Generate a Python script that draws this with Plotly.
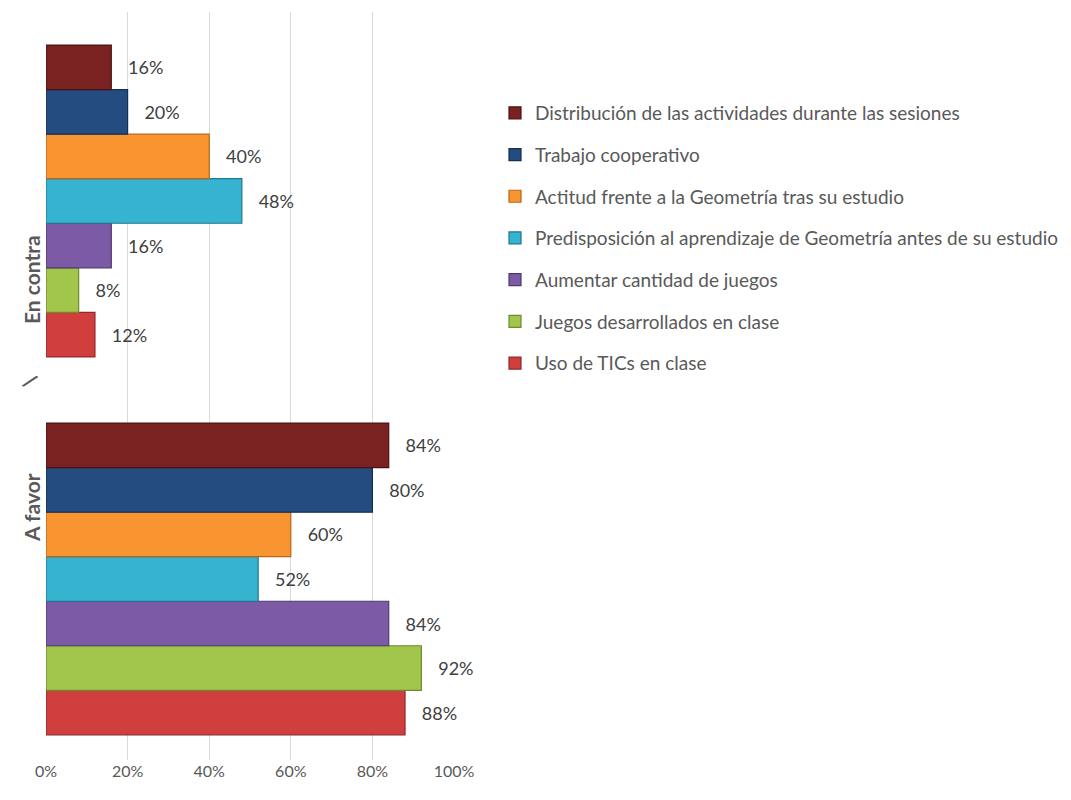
import plotly.graph_objects as go

categories = ["A favor", "En contra"]
series_names = [
    "Uso de TICs en clase",
    "Juegos desarrollados en clase",
    "Aumentar cantidad de juegos",
    "Predisposición al aprendizaje de Geometría antes de su estudio",
    "Actitud frente a la Geometría tras su estudio",
    "Trabajo cooperativo",
    "Distribución de las actividades durante las sesiones",
]
a_favor = [0.88, 0.92, 0.84, 0.52, 0.60, 0.80, 0.84]
en_contra = [0.12, 0.08, 0.16, 0.48, 0.40, 0.20, 0.16]
colors = ["#D03E3E", "#A2C54C", "#7C5AA6", "#37B3D2", "#F99530", "#244C80", "#7A2222"]
edges = ["#8E2A2A", "#6E8A2E", "#4F3A70", "#1F7690", "#B8661A", "#15304F", "#4A1414"]
xticks = [0, 0.2, 0.4, 0.6, 0.8, 1.0]
xticklabels = ["0%", "20%", "40%", "60%", "80%", "100%"]

FONT = "Lato, 'Open Sans', sans-serif"

fig = go.Figure()
n = len(series_names)
for i, name in enumerate(series_names):
    vals = [a_favor[i], en_contra[i]]
    fig.add_trace(go.Bar(
        name=name,
        y=categories,
        x=vals,
        orientation="h",
        marker=dict(color=colors[i], line=dict(color=edges[i], width=1.2)),
        text=["\u00a0\u00a0\u00a0" + f"{round(v*100)}%" for v in vals],
        textposition="outside",
        textfont=dict(family=FONT, size=18, color="#404040"),
        cliponaxis=False,
        legendgroup=f"g{i}",
        legendrank=n - i,
    ))

fig.update_layout(
    width=1071, height=800,
    margin=dict(l=46, r=617, t=12, b=40, autoexpand=False),
    paper_bgcolor="white",
    plot_bgcolor="white",
    barmode="group",
    bargap=0.175,
    bargroupgap=0,
    font=dict(family=FONT, color="#595959"),
    showlegend=True,
    legend=dict(
        x=(495 - 46) / 408, xanchor="left", y=(760 - 94) / 748, yanchor="top",
        traceorder="grouped",
        tracegroupgap=14,
        font=dict(family=FONT, size=19, color="#595959"),
        itemwidth=30,
        bgcolor="rgba(0,0,0,0)",
    ),
    xaxis=dict(
        range=[0, 1.0],
        tickvals=xticks,
        ticktext=xticklabels,
        showgrid=True,
        gridcolor="#D9D9D9",
        gridwidth=1,
        zeroline=False,
        showline=False,
        tickfont=dict(family=FONT, size=16, color="#595959"),
    ),
    yaxis=dict(
        type="category",
        range=[-0.479, 1.5],
        showticklabels=False,
        showgrid=False,
        showline=False,
        zeroline=False,
    ),
)

ylabels = [("En contra", 280), ("/", 380), ("A favor", 508)]
for txt, ypix in ylabels:
    fig.add_annotation(
        text=txt, xref="paper", yref="paper",
        x=(31 - 46) / 408, y=(760 - ypix) / 748,
        xanchor="center", yanchor="middle",
        showarrow=False, textangle=-90 if txt != "/" else 35,
        font=dict(family=FONT, size=21, color="#595959", weight="bold"),
    )

fig.write_html("out.html")
